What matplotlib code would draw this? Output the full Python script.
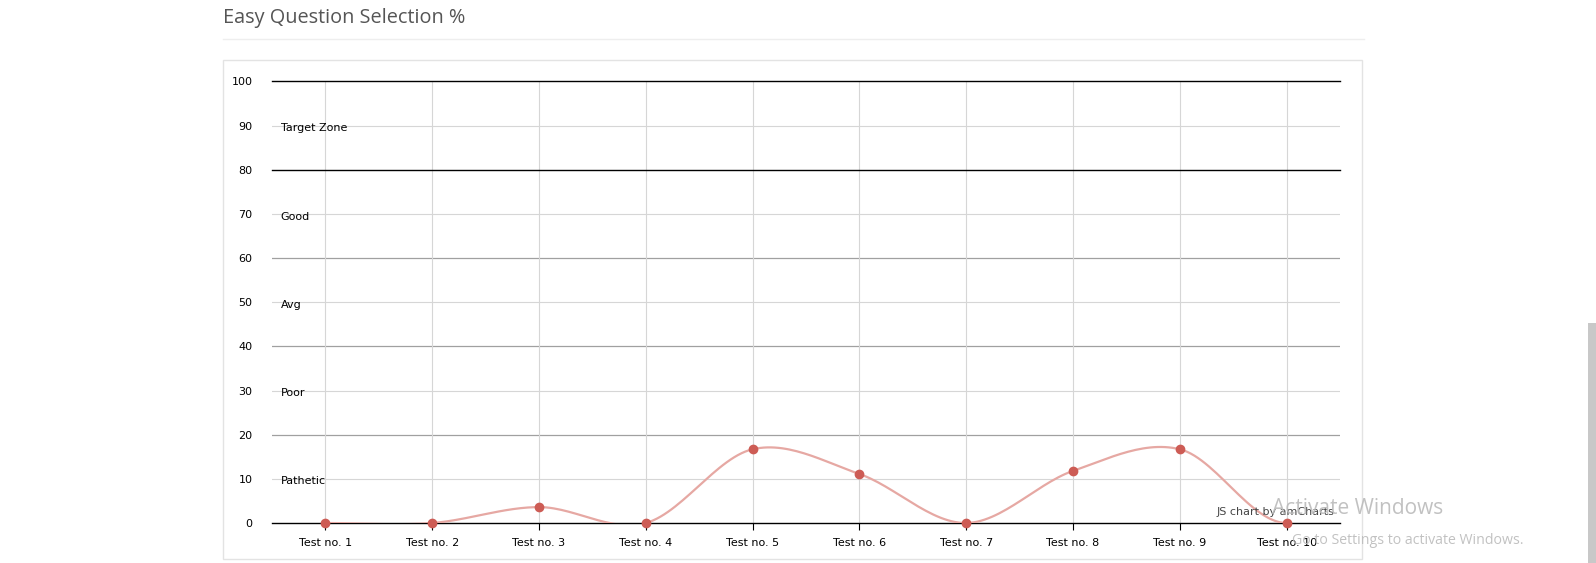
import numpy as np
import matplotlib
matplotlib.use("Agg")
import matplotlib.pyplot as plt
from matplotlib.patches import Rectangle
from matplotlib.lines import Line2D

tests = ["Test no. 1", "Test no. 2", "Test no. 3", "Test no. 4", "Test no. 5",
         "Test no. 6", "Test no. 7", "Test no. 8", "Test no. 9", "Test no. 10"]
easy_pct = [0, 0, 3.6, 0, 16.7, 11.1, 0, 11.8, 16.7, 0]

zone_names = ["Pathetic", "Poor", "Avg", "Good", "Target Zone"]
zone_tops = [20, 40, 60, 80, 100]


def smooth(xs, ys, n=30):
    # cubic hermite through the points, catmull-rom style tangents
    xs = np.asarray(xs, float)
    ys = np.asarray(ys, float)
    m = np.zeros_like(ys)
    m[1:-1] = (ys[2:] - ys[:-2]) / 2
    out_x, out_y = [], []
    for i in range(len(xs) - 1):
        t = np.linspace(0, 1, n)
        h00 = 2 * t**3 - 3 * t**2 + 1
        h10 = t**3 - 2 * t**2 + t
        h01 = -2 * t**3 + 3 * t**2
        h11 = t**3 - t**2
        out_x.extend(xs[i] + t)
        out_y.extend(h00 * ys[i] + h10 * m[i] + h01 * ys[i + 1] + h11 * m[i + 1])
    return np.array(out_x), np.array(out_y)


fig = plt.figure(figsize=(15.96, 5.63), dpi=100)
plt.rcParams['font.family'] = ['Open Sans', 'DejaVu Sans']

# page decoration: title, separator, panel frame
fig.text(223 / 1596, 1 - 18 / 563, "Easy Question Selection %", fontsize=14.3,
         color="#555555", va="center", ha="left")
fig.add_artist(Line2D([223 / 1596, 1364 / 1596], [1 - 39 / 563] * 2,
                      color="#eeeeee", lw=1))
fig.add_artist(Rectangle((223 / 1596, 1 - 559 / 563), (1362 - 223) / 1596,
                         (559 - 60) / 563, fill=False, ec="#e3e3e3", lw=1))
fig.add_artist(Rectangle((1588 / 1596, 0), 8 / 1596, (563 - 323) / 563,
                         color="#c8c8c8", lw=0))

ax = fig.add_axes([272 / 1596, 40 / 563, 1068 / 1596, 441.6 / 563])
x = np.arange(len(tests))

for v in range(10, 100, 20):
    ax.axhline(v, color="#d6d6d6", lw=0.8, zorder=1)
for v in (20, 40, 60):
    ax.axhline(v, color="#a0a0a0", lw=0.9, zorder=1)
for v in (0, 80, 100):
    ax.axhline(v, color="black", lw=1.0, zorder=2, clip_on=False)
for xi in x:
    ax.axvline(xi, color="#d6d6d6", lw=0.8, zorder=1)

for name, top in zip(zone_names, zone_tops):
    ax.text(-0.42, top - 10.6, name, fontsize=8, color="black", va="center",
            ha="left", family=["DejaVu Sans"])

sx, sy = smooth(x, easy_pct)
ax.plot(sx, sy, color="#e6a8a3", lw=1.6, zorder=3)
ax.plot(x, easy_pct, "o", color="#cd5c55", ms=6, zorder=4, clip_on=False)

ax.set_xlim(-0.5, len(tests) - 0.5)
ax.set_ylim(0, 100)
ax.set_xticks(x)
ax.set_xticklabels(tests, family=["DejaVu Sans"])
ax.set_yticks(range(0, 101, 10))
ax.tick_params(axis="x", length=5, width=0.8, color="black", labelsize=8, pad=6)
ax.tick_params(axis="y", length=0, labelsize=8, pad=14)
for lab in ax.get_yticklabels():
    lab.set_family(["DejaVu Sans"])
for s in ax.spines.values():
    s.set_visible(False)
ax.set_facecolor("none")

ax.text(9.45, 2.5, "JS chart by amCharts", fontsize=8, color="#444444",
        ha="right", va="center", family=["DejaVu Sans"], zorder=5)

fig.text(1272 / 1596, 1 - 508 / 563, "Activate Windows", fontsize=15,
         color="#bbbbbb", va="center", ha="left", alpha=0.9)
fig.text(1292 / 1596, 1 - 540 / 563, "Go to Settings to activate Windows.",
         fontsize=10.2, color="#bbbbbb", va="center", ha="left", alpha=0.9)

fig.savefig("out.png", dpi=100)
